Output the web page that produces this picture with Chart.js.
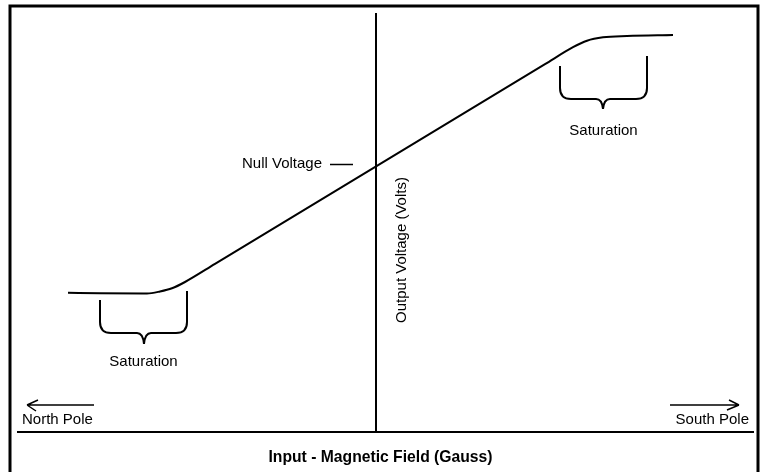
<!DOCTYPE html>
<html>
<head>
<meta charset="utf-8">
<script src="https://cdn.jsdelivr.net/npm/chart.js@4/dist/chart.umd.min.js"></script>
<style>
  html, body { margin: 0; padding: 0; background: #fff; }
  #wrap { width: 765px; height: 472px; }
</style>
</head>
<body>
<div id="wrap"><canvas id="c" width="765" height="472"></canvas></div>
<script>
// ---- data (arbitrary units, 0 = null point) ----
const fieldGauss  = [-154, -138, -114.5, -108, -102, -95.5, -80.5, 84.5, 98.5, 105.5, 113.5, 125.5, 148.5];
const outputVolts = [-63.35, -63.65, -63.75, -62.75, -61.15, -58, -48.95, 50.9, 59.4, 62.65, 64.35, 65, 65.5];

const xTitle = 'Input - Magnetic Field (Gauss)';
const yTitle = 'Output Voltage (Volts)';
const nullLabel = 'Null Voltage';
const satLabel = 'Saturation';
const northLabel = 'North Pole';
const southLabel = 'South Pole';

// saturation braces, in data units
const braceLeftX   = [-138, 92];
const braceRightX  = [-94.5, 135.5];
const braceTopL    = [-67, 50];
const braceTopR    = [-62.5, 55];
const braceBottom  = [-83.5, 33.5];
const braceTipX    = [-116, 113.5];
const braceTipY    = [-89, 28.5];

const points = fieldGauss.map((x, i) => ({ x: x, y: outputVolts[i] }));

const FONT = '"Liberation Sans", Arial, Helvetica, sans-serif';

const decor = {
  id: 'decor',
  afterDatasetsDraw(chart) {
    const ctx = chart.ctx;
    const xs = chart.scales.x, ys = chart.scales.y;
    const area = chart.chartArea;
    const X = v => xs.getPixelForValue(v);
    const Y = v => ys.getPixelForValue(v);
    ctx.save();
    ctx.strokeStyle = '#000';
    ctx.fillStyle = '#000';
    ctx.lineCap = 'butt';

    // frame (open at bottom)
    ctx.lineWidth = 3;
    ctx.beginPath();
    ctx.moveTo(10, 472);
    ctx.lineTo(10, 6);
    ctx.lineTo(758, 6);
    ctx.lineTo(758, 472);
    ctx.stroke();

    // axes
    ctx.lineWidth = 2;
    ctx.beginPath();
    ctx.moveTo(area.left, area.bottom);
    ctx.lineTo(area.right, area.bottom);
    ctx.moveTo(X(0), area.top);
    ctx.lineTo(X(0), area.bottom);
    ctx.stroke();

    // braces
    ctx.lineWidth = 2;
    for (let i = 0; i < braceLeftX.length; i++) {
      const xl = X(braceLeftX[i]), xr = X(braceRightX[i]);
      const yh = Y(braceBottom[i]);
      const tx = X(braceTipX[i]), ty = Y(braceTipY[i]);
      const r = 11;
      ctx.beginPath();
      ctx.moveTo(xl, Y(braceTopL[i]));
      ctx.lineTo(xl, yh - r);
      ctx.quadraticCurveTo(xl, yh, xl + r, yh);
      ctx.lineTo(tx - 7, yh);
      ctx.quadraticCurveTo(tx - 1, yh, tx, ty);
      ctx.quadraticCurveTo(tx + 1, yh, tx + 7, yh);
      ctx.lineTo(xr - r, yh);
      ctx.quadraticCurveTo(xr, yh, xr, yh - r);
      ctx.lineTo(xr, Y(braceTopR[i]));
      ctx.stroke();
    }

    // texts
    ctx.font = '15px ' + FONT;
    ctx.textBaseline = 'alphabetic';
    ctx.textAlign = 'center';
    ctx.fillText(satLabel, (X(braceLeftX[0]) + X(braceRightX[0])) / 2, Y(braceTipY[0]) + 22);
    ctx.fillText(satLabel, (X(braceLeftX[1]) + X(braceRightX[1])) / 2, Y(braceTipY[1]) + 26);

    // null voltage
    ctx.textAlign = 'left';
    ctx.fillText(nullLabel, 242, Y(0) + 2);
    ctx.lineWidth = 1.5;
    ctx.beginPath();
    ctx.moveTo(330, Y(0) - 1.5);
    ctx.lineTo(353, Y(0) - 1.5);
    ctx.stroke();

    // north / south
    ctx.textAlign = 'left';
    ctx.fillText(northLabel, 22, 424);
    ctx.textAlign = 'right';
    ctx.fillText(southLabel, 749, 424);
    ctx.lineWidth = 1.5;
    ctx.beginPath();
    ctx.moveTo(27, 405); ctx.lineTo(94, 405);
    ctx.moveTo(27, 405); ctx.lineTo(38, 400);
    ctx.moveTo(27, 405); ctx.lineTo(36, 411);
    ctx.moveTo(670, 405); ctx.lineTo(739, 405);
    ctx.moveTo(739, 405); ctx.lineTo(729, 400);
    ctx.moveTo(739, 405); ctx.lineTo(727, 410);
    ctx.stroke();

    // y title (rotated)
    ctx.save();
    ctx.translate(406, 250);
    ctx.rotate(-Math.PI / 2);
    ctx.textAlign = 'center';
    ctx.fillText(yTitle, 0, 0);
    ctx.restore();

    // x title
    ctx.font = 'bold 15.7px ' + FONT;
    ctx.textAlign = 'center';
    ctx.fillText(xTitle, 380.5, 462);
    ctx.restore();
  }
};

new Chart(document.getElementById('c'), {
  type: 'scatter',
  data: {
    datasets: [{
      data: points,
      showLine: true,
      borderColor: '#000',
      borderWidth: 2,
      pointRadius: 0,
      cubicInterpolationMode: 'monotone',
      fill: false
    }]
  },
  options: {
    responsive: false,
    animation: false,
    devicePixelRatio: 1,
    layout: { padding: { left: 17, right: 11, top: 13, bottom: 40 } },
    plugins: { legend: { display: false }, tooltip: { enabled: false }, title: { display: false } },
    scales: {
      x: { type: 'linear', display: false, min: -179.5, max: 189 },
      y: { type: 'linear', display: false, min: -133, max: 76.5 }
    }
  },
  plugins: [decor]
});
</script>
</body>
</html>
